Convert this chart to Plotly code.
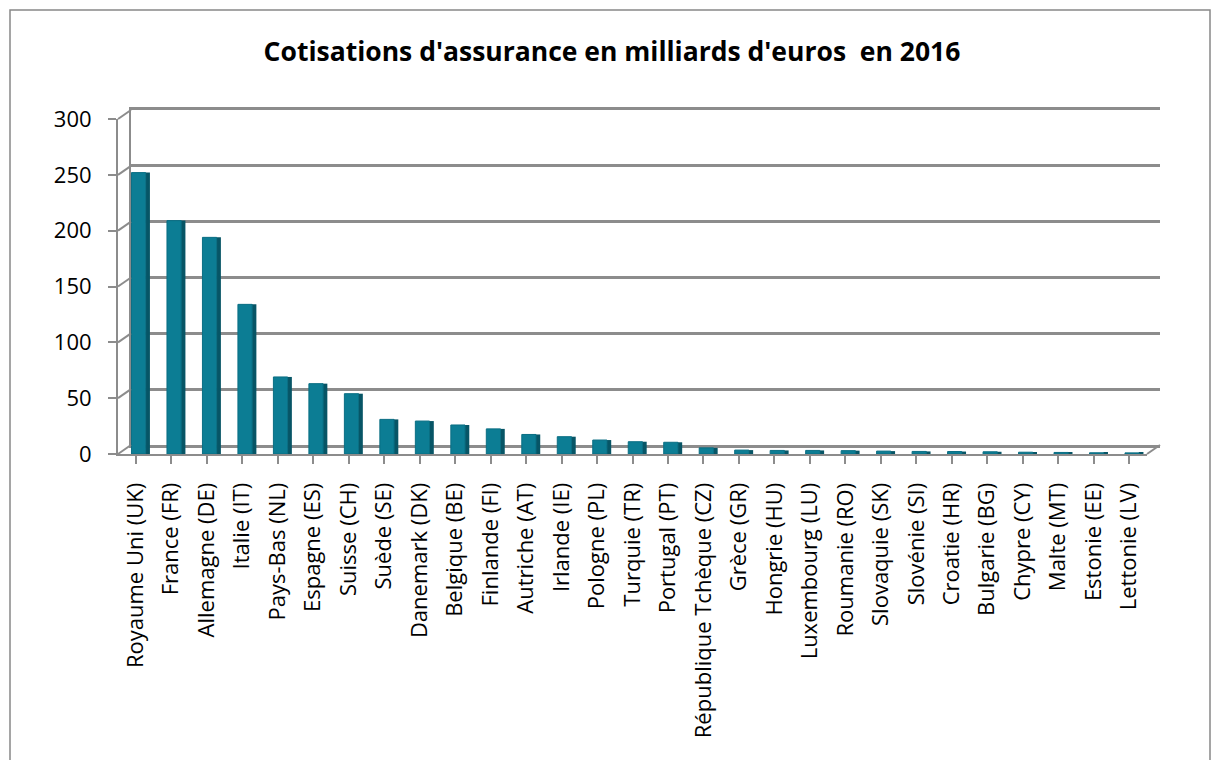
import plotly.graph_objects as go

categories = ["Royaume Uni (UK)", "France (FR)", "Allemagne (DE)", "Italie (IT)",
              "Pays-Bas (NL)", "Espagne (ES)", "Suisse (CH)", "Suède (SE)",
              "Danemark (DK)", "Belgique (BE)", "Finlande (FI)", "Autriche (AT)",
              "Irlande (IE)", "Pologne (PL)", "Turquie (TR)", "Portugal (PT)",
              "République Tchèque (CZ)", "Grèce (GR)", "Hongrie (HU)",
              "Luxembourg (LU)", "Roumanie (RO)", "Slovaquie (SK)", "Slovénie (SI)",
              "Croatie (HR)", "Bulgarie (BG)", "Chypre (CY)", "Malte (MT)",
              "Estonie (EE)", "Lettonie (LV)"]
values = [252, 209, 194, 134, 69, 63, 54, 31, 29.5, 26, 22.5, 17.5, 15.5, 12.5, 11, 10.5,
          5.5, 3.5, 3.2, 3.2, 3.0, 2.6, 2.3, 2.2, 2.0, 1.6, 1.4, 1.1, 1.0]
y_ticks = [0, 50, 100, 150, 200, 250, 300]

title_text = "Cotisations d'assurance en milliards d'euros  en 2016"

W, H = 1213, 760
L, R, T, B = 118, 1147, 119, 454      # front plot box in pixels
DX, DY = 13, 9                        # depth offset of back wall
BL, BR, BT, BB = L, R + DX, T - DY, B  # full plotting box

FONT = "Open Sans"
FRONT = "#0C7D94"
SIDE = "#075566"
TOPC = "#0A6E83"
GRID = "#8C8C8C"

xs = list(range(len(categories)))


def px_x(p):
    return (p - BL) / (BR - BL)


def px_y(p):
    return (BB - p) / (BB - BT)


fig = go.Figure()
# back wall (gridlines) on the first subplot (drawn underneath)
fig.add_trace(go.Scatter(x=xs, y=values, mode="markers", marker=dict(opacity=0),
                         xaxis="x", yaxis="y", hoverinfo="skip", showlegend=False))
# side face (darker)
fig.add_trace(go.Bar(x=xs, y=values, width=0.13, offset=0.27, xaxis="x2", yaxis="y2",
                     marker=dict(color=SIDE, line=dict(width=0)),
                     showlegend=False, hoverinfo="skip"))
# front face
fig.add_trace(go.Bar(x=xs, y=values, width=0.40, offset=-0.12, xaxis="x2", yaxis="y2",
                     marker=dict(color=FRONT, line=dict(color=TOPC, width=1)),
                     showlegend=False, hovertemplate="%{customdata}: %{y}<extra></extra>",
                     customdata=categories))

fig.update_layout(
    width=W, height=H,
    margin=dict(l=BL, r=W - BR, t=BT, b=H - BB, pad=0),
    paper_bgcolor="white", plot_bgcolor="rgba(0,0,0,0)",
    barmode="overlay",
    font=dict(family=FONT, size=21, color="black"),
    title=dict(text="<b>" + title_text + "</b>", x=612 / W, xref="container", xanchor="center",
               y=1 - 52 / H, yref="container", yanchor="middle",
               font=dict(family=FONT, size=26.5, color="black")),
    # back wall axes
    xaxis=dict(range=[-0.5, len(xs) - 0.5], showticklabels=False,
               showgrid=False, zeroline=False, showline=True, mirror=True,
               linecolor=GRID, linewidth=2.5, ticks="",
               domain=[px_x(L + DX), 1], anchor="y"),
    yaxis=dict(range=[0, 300], showticklabels=False, tickvals=y_ticks,
               showgrid=True, gridcolor=GRID, gridwidth=2.5, zeroline=False,
               showline=True, linecolor=GRID, linewidth=2, ticks="",
               anchor="x", domain=[px_y(B - DY), 1]),
    # front axes with bars
    xaxis2=dict(range=[-0.5, len(xs) - 0.5], tickmode="array", tickvals=xs,
                ticktext=categories, tickson="boundaries",
                tickangle=-90, ticks="outside", ticklen=8, tickcolor=GRID, tickwidth=2,
                showline=True, linecolor=GRID, linewidth=2, showgrid=False, zeroline=False,
                ticklabelstandoff=10,
                domain=[0, px_x(R)], anchor="y2",
                tickfont=dict(family=FONT, size=22, color="black")),
    yaxis2=dict(range=[0, 300], tickvals=y_ticks, ticks="outside", ticklen=8, tickcolor=GRID,
                tickwidth=2, showline=True, linecolor=GRID, linewidth=2, showgrid=False,
                zeroline=False, ticklabelstandoff=12, domain=[0, px_y(T)], anchor="x2",
                tickfont=dict(family=FONT, size=22, color="black")),
)

shapes = []
# diagonal connectors from front y-axis ticks to back wall gridlines
for v in y_ticks:
    yf = B - (B - T) * v / 300
    shapes.append(dict(type="line", xref="paper", yref="paper",
                       x0=px_x(L), y0=px_y(yf), x1=px_x(L + DX), y1=px_y(yf - DY),
                       line=dict(color=GRID, width=2)))
# right floor edge
shapes.append(dict(type="line", xref="paper", yref="paper",
                   x0=px_x(R), y0=px_y(B), x1=px_x(R + DX), y1=px_y(B - DY),
                   line=dict(color=GRID, width=2)))
# outer chart border
shapes.append(dict(type="rect", xref="paper", yref="paper",
                   x0=px_x(10), y0=px_y(10), x1=px_x(1210), y1=px_y(800),
                   line=dict(color="#888888", width=1.5), fillcolor="rgba(0,0,0,0)",
                   layer="below"))
fig.update_layout(shapes=shapes)

fig.write_html("out.html", config={"displayModeBar": False},
               post_script="document.body.style.margin='0';")
